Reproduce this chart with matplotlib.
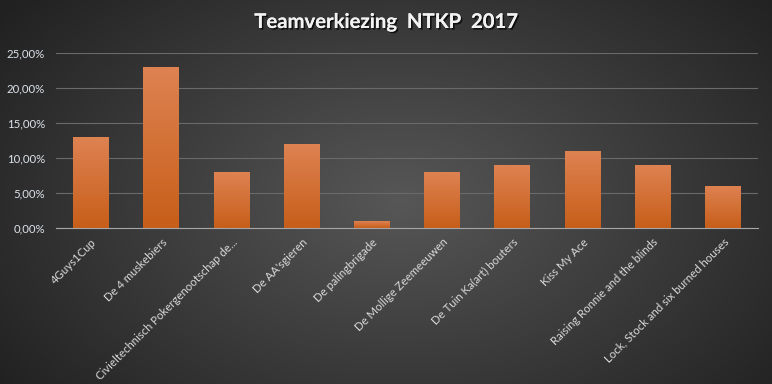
import matplotlib.pyplot as plt
import matplotlib.patheffects as pe
import numpy as np
from matplotlib.ticker import FuncFormatter

# Data
teams = ['4Guys1Cup', 'De 4 muskebiers', 'Civieltechnisch Pokergenootschap de...',
         "De AA'sgieren", 'De palingbrigade', 'De Mollige Zeemeeuwen',
         'De Tuin Ka(art) bouters', 'Kiss My Ace', 'Raising Ronnie and the blinds',
         'Lock, Stock and six burned houses']
share = [0.13, 0.23, 0.08, 0.12, 0.01, 0.08, 0.09, 0.11, 0.09, 0.06]
yticks = [0.0, 0.05, 0.10, 0.15, 0.20, 0.25]

plt.rcParams['font.family'] = ['Lato', 'DejaVu Sans']

fig = plt.figure(figsize=(7.72, 3.84), dpi=100)

# radial dark background
bg = fig.add_axes([0, 0, 1, 1])
yy, xx = np.mgrid[0:384, 0:772]
r = np.sqrt(((xx - 400) / 520.0) ** 2 + ((yy - 200) / 330.0) ** 2)
shade = np.clip(0.34 - 0.22 * r, 0.13, 0.34)
bg.imshow(np.dstack([shade, shade, shade]), aspect='auto', extent=[0, 1, 0, 1])
bg.axis('off')

ax = fig.add_axes([56 / 772, 1 - 228 / 384, 702 / 772, 175 / 384])
ax.patch.set_alpha(0)

x = np.arange(len(teams))
bars = ax.bar(x, share, width=0.51, color='#d0651f', zorder=3)

# vertical gradient on bars
grad = np.linspace(0, 1, 100).reshape(-1, 1)
top = np.array([0.87, 0.51, 0.32])
bot = np.array([0.78, 0.37, 0.10])
img = grad[..., None] * top + (1 - grad[..., None]) * bot
for b in bars:
    x0, y0 = b.get_x(), b.get_y()
    im = ax.imshow(img, extent=[x0, x0 + b.get_width(), y0, y0 + b.get_height()],
                   aspect='auto', origin='lower', zorder=4)
    im.set_clip_path(b)

ax.set_xlim(-0.5, len(teams) - 0.5)
ax.set_ylim(0, 0.25)
ax.set_yticks(yticks)
ax.yaxis.set_major_formatter(FuncFormatter(lambda v, p: '{:.2f}%'.format(v * 100).replace('.', ',')))
ax.grid(axis='y', color='#6a6a6a', linewidth=0.8, zorder=0)
ax.set_axisbelow(True)
for s in ['top', 'right', 'left']:
    ax.spines[s].set_visible(False)
ax.spines['bottom'].set_color('#a6a6a6')
ax.spines['bottom'].set_zorder(5)

ax.set_xticks(x)
ax.set_xticklabels(teams, rotation=45, ha='right', rotation_mode='anchor')
ax.tick_params(axis='both', length=0, colors='#d9d9d9', labelsize=8.2)
ax.tick_params(axis='y', pad=8, colors='#dde3ea')
ax.tick_params(axis='x', pad=6)

fig.text(0.5, 1 - 22 / 384, 'Teamverkiezing  NTKP  2017', ha='center', va='center',
         fontsize=14.6, fontweight='bold', color='#f2f2f2',
         path_effects=[pe.withSimplePatchShadow(offset=(1.2, -1.2), shadow_rgbFace='black', alpha=0.7), pe.Normal()])

fig.savefig('out.png', dpi=100)
